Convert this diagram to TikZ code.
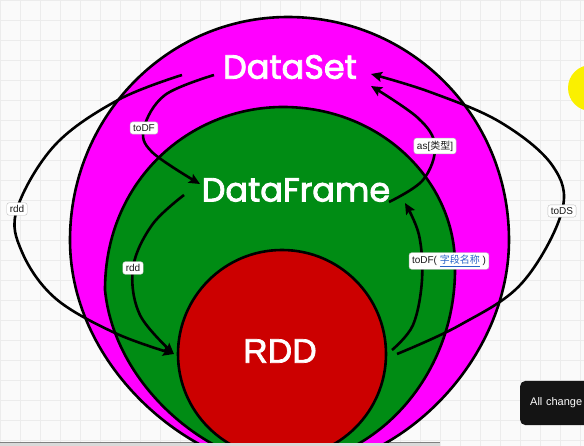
\documentclass[tikz,border=0pt]{standalone}
\usepackage{fontspec}
\setmainfont{Liberation Sans}
\newfontfamily\bigfont[FakeBold=2.5]{Poppins}
\newfontfamily\rddfont[FakeBold=2]{Liberation Sans}
\newfontfamily\cjk{Noto Sans CJK SC}
\usetikzlibrary{arrows.meta}
\definecolor{mag}{RGB}{255,0,255}
\definecolor{grn}{RGB}{0,140,20}
\definecolor{rd}{RGB}{204,0,0}
\definecolor{gridc}{RGB}{236,236,236}
\definecolor{bgc}{RGB}{250,250,250}
\definecolor{linkblue}{RGB}{40,100,200}
\definecolor{yel}{RGB}{250,240,0}
\tikzset{
  shapeline/.style={line width=2.6pt, draw=black},
  conn/.style={line width=2.6pt, draw=black, -{Stealth[length=11pt,width=10pt,inset=2pt]}},
  lab/.style={fill=white, draw=black!25, rounded corners=2.5pt, inner xsep=3pt, inner ysep=2.6pt, text=black!90, font=\fontsize{10}{11}\selectfont},
  big/.style={text=white, font=\bigfont\fontsize{33.5}{36}\selectfont, inner sep=0pt}
}
\begin{document}
\begin{tikzpicture}[x=1pt,y=-1pt]
\useasboundingbox (0,0) rectangle (584,446);
\fill[bgc] (0,0) rectangle (584,446);
\draw[gridc, line width=0.6pt] (0,0) grid[step=20pt] (584,446);
% yellow blob
\fill[yel] (591,88) circle[radius=23pt];
% toast
\node[fill=black!92, rounded corners=5pt, anchor=west, minimum height=44pt, text=white, font=\fontsize{11}{12}\selectfont, inner xsep=10pt, align=left, text width=70pt] (toast) at (520,403) {All change};
% bottom bar
\fill[black!15] (0,442) rectangle (440,446);
\draw[black!50, line width=1pt] (0,442.5) -- (440,442.5);
\begin{scope}
\clip (0,0) rectangle (584,442);
\draw[shapeline, fill=mag] (288,17) .. controls (410,17) and (509,115) .. (509,240)
  .. controls (509,360) and (400,470) .. (290,470)
  .. controls (195,470) and (70,370) .. (70,240)
  .. controls (70,117) and (167,17) .. (288,17) -- cycle;
\draw[shapeline, fill=grn] (283,107) .. controls (380,107) and (455,180) .. (455,265)
  .. controls (457,380) and (370,465) .. (283,465)
  .. controls (215,465) and (115,390) .. (105,290)
  .. controls (105,180) and (190,107) .. (283,107) -- cycle;
\draw[shapeline, fill=rd] (282,354) circle[radius=104pt];
\end{scope}
% texts
\node[big] (ds) at (290,67) {DataSet};
\node[big] (df) at (296,190) {DataFrame};
\node[text=white, font=\rddfont\fontsize{34}{36}\selectfont, inner sep=0pt] (rdd) at (280,351) {RDD};
% label positions
\coordinate (p1) at (17,209);
\coordinate (p2) at (144,128);
\coordinate (p3) at (435,146);
\coordinate (p4) at (133,268);
\coordinate (p5) at (449,261);
\coordinate (p6) at (562,211);
% connectors
\coordinate (a0) at (182,75);
\coordinate (a1) at (118,100);
\coordinate (a2) at (55,145);
\coordinate (a3) at (22,252);
\coordinate (a4) at (55,298);
\coordinate (a5) at (115,333);
\coordinate (a6) at (174,354);
\draw[conn] plot[smooth, tension=0.6] coordinates {(a0) (a1) (a2) (p1) (a3) (a4) (a5) (a6)};
\coordinate (b0) at (397,354);
\coordinate (b1) at (460,325);
\coordinate (b2) at (522,283);
\coordinate (b3) at (552,165);
\coordinate (b4) at (500,122);
\coordinate (b5) at (430,92);
\coordinate (b6) at (371,74);
\draw[conn] plot[smooth, tension=0.6] coordinates {(b0) (b1) (b2) (p6) (b3) (b4) (b5) (b6)};
\coordinate (c0) at (214,75);
\coordinate (c1) at (165,95);
\coordinate (c2) at (152,152);
\coordinate (c3) at (200,184);
\draw[conn] plot[smooth, tension=0.6] coordinates {(c0) (c1) (p2) (c2) (c3)};
\coordinate (d0) at (184,195);
\coordinate (d1) at (152,225);
\coordinate (d2) at (140,315);
\coordinate (d3) at (174,354);
\draw[conn] plot[smooth, tension=0.6] coordinates {(d0) (d1) (p4) (d2) (d3)};
\coordinate (e0) at (389,202);
\coordinate (e1) at (423,180);
\coordinate (e2) at (418,118);
\coordinate (e3) at (371,86);
\draw[conn] plot[smooth, tension=0.6] coordinates {(e0) (e1) (p3) (e2) (e3)};
\coordinate (f0) at (392,350);
\coordinate (f1) at (413,325);
\coordinate (f2) at (422,280);
\coordinate (f3) at (419,235);
\coordinate (f4) at (405,203);
\draw[conn] plot[smooth, tension=0.6] coordinates {(f0) (f1) (f2) (f3) (f4)};
% labels on top
\node[lab] (l1) at (p1) {rdd};
\node[lab] (l2) at (p2) {toDF};
\node[lab] (l3) at (p3) {as[{\cjk 类型}]};
\node[lab] (l4) at (p4) {rdd};
\node[lab] (l6) at (p6) {toDS};
\node[lab] (l5) at (p5) {toDF( {\cjk\color{linkblue}\underline{字段名称}} )};
\end{tikzpicture}
\end{document}
